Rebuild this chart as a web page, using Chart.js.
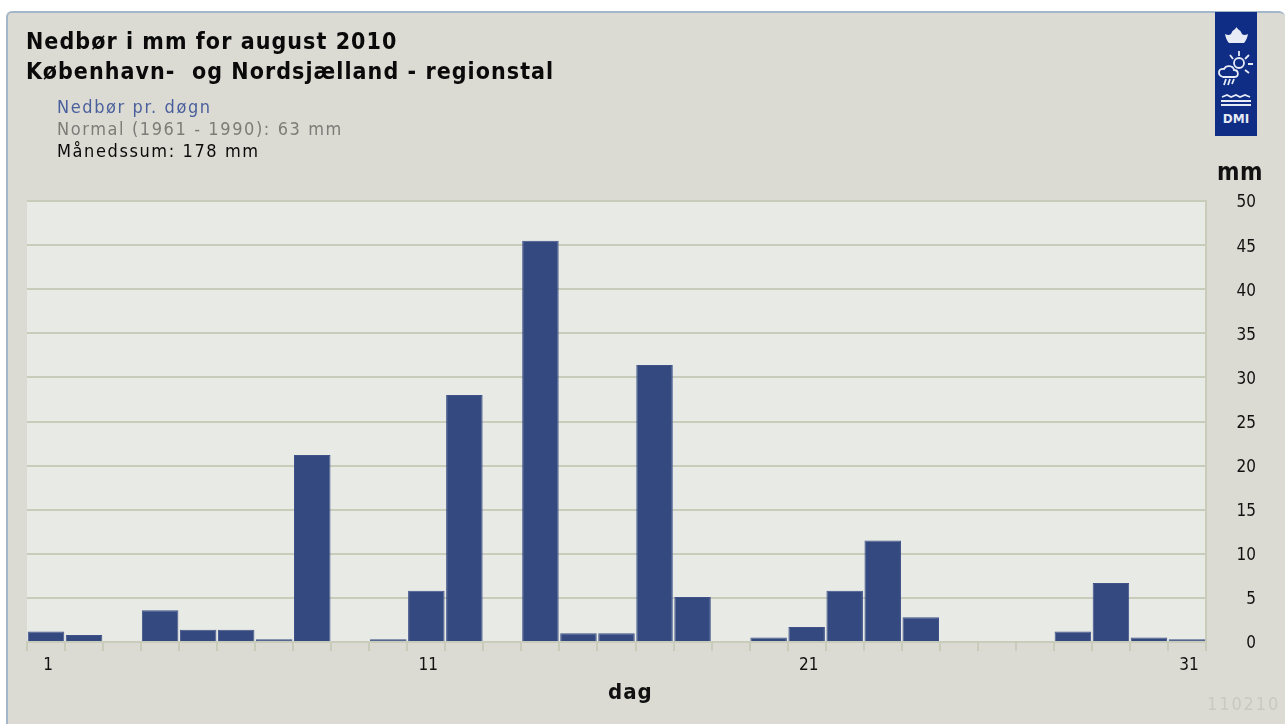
<!DOCTYPE html>
<html>
<head>
<meta charset="utf-8">
<title>Nedbør i mm for august 2010</title>
<script src="https://cdn.jsdelivr.net/npm/chart.js@4"></script>
<style>
html, body { margin: 0; padding: 0; background: #fff; overflow: hidden; }
#wrap { position: relative; width: 1285px; height: 724px; overflow: hidden; font-family: "DejaVu Sans Condensed", "DejaVu Sans", sans-serif; filter: blur(0.45px); }
#panel { position: absolute; left: 6px; top: 11px; width: 1279px; height: 720px; background: #dbdbd3;
  border-left: 2px solid #a4b6c9; border-top: 2px solid #a4b6c9; border-radius: 6px 6px 0 0; box-sizing: border-box; }
#chart { position: absolute; left: 0; top: 0; }
.txt { position: absolute; white-space: nowrap; }
.head { left: 26px; font-size: 23px; font-weight: bold; color: #0a0a0a; line-height: 30px; letter-spacing: 1.05px; }
.sub { left: 57px; font-size: 18px; line-height: 22px; letter-spacing: 1.6px; }
#logo { position: absolute; left: 1215px; top: 12px; width: 42px; height: 124px; }
</style>
</head>
<body>
<div id="wrap">
  <div id="panel"></div>
  <canvas id="chart" width="1285" height="724"></canvas>
  <div class="txt head" style="top:26px">Nedbør i mm for august 2010</div>
  <div class="txt head" style="top:56px">København-&nbsp; og Nordsjælland - regionstal</div>
  <div class="txt sub" style="top:96px;color:#4a5f9c">Nedbør pr. døgn</div>
  <div class="txt sub" style="top:118px;color:#7c7c78">Normal (1961 - 1990): 63 mm</div>
  <div class="txt sub" style="top:140px;color:#0a0a0a">Månedssum: 178 mm</div>
  <div class="txt" style="left:1217px;top:158px;font-size:24px;font-weight:bold;letter-spacing:0.5px;color:#111">mm</div>
  <div class="txt" style="left:608px;top:679px;font-size:22px;font-weight:bold;letter-spacing:1px;color:#111">dag</div>
  <div class="txt" style="left:1207px;top:693px;font-size:18px;letter-spacing:1.9px;color:#c9c9c0">110210</div>
  <svg id="logo" viewBox="0 0 42 124">
    <rect width="42" height="124" fill="#0f2d85"/>
    <g fill="#e6ebf5">
      <path d="M10 22 C11 28 14 31 14 31 H29 C29 31 32 28 33 22 C29 24 27 23 26 20 C25 18 23 18 21.5 15 C20 18 18 18 17 20 C16 23 14 24 10 22Z"/>
    </g>
    <g stroke="#e6ebf5" stroke-width="1.8" fill="none">
      <circle cx="24" cy="51" r="5"/>
      <path d="M24 39v5M34 43l-4 4M38 52h-5M34 61l-4-3M15 43l3 4"/>
      <path d="M8 65 C2 63 3 56 9 57 C11 53 18 53 19 58 C24 58 24 65 20 65Z" fill="#0f2d85"/>
      <path d="M11 67l-2 6M15 67l-2 6M19 67l-2 5"/>
      <path d="M7 85 l5 -2 l4 2 l5 -2 l4 2 l5 -2 l5 2"/>
      <path d="M6 89h30M6 93h30" stroke-width="2"/>
    </g>
    <text x="21" y="111" text-anchor="middle" font-family="DejaVu Sans" font-weight="bold" font-size="12" fill="#e6ebf5">DMI</text>
  </svg>
</div>
<script>
var days = ['1','2','3','4','5','6','7','8','9','10','11','12','13','14','15','16','17','18','19','20','21','22','23','24','25','26','27','28','29','30','31'];
var rain = [1.2,0.8,0,3.6,1.4,1.4,0.3,21.2,0,0.3,5.8,28,0,45.5,1,1,31.4,5.1,0,0.5,1.7,5.8,11.5,2.8,0,0,0,1.2,6.7,0.5,0.3];
var shownDays = ['1','11','21','31'];

// fills the plot area behind the bars
var plotBackground = {
    id: 'plotBackground',
    beforeDraw: function(chart) {
        var a = chart.chartArea;
        chart.ctx.fillStyle = '#e8eae5';
        chart.ctx.fillRect(a.left, a.top, a.right - a.left, a.bottom - a.top);
    }
};

var ctx = document.getElementById('chart').getContext('2d');
var chart = new Chart(ctx, {
    type: 'bar',
    data: {
        labels: days,
        datasets: [{
            label: 'Nedbør pr. døgn',
            data: rain,
            backgroundColor: '#34497f',
            borderColor: '#3f5389',
            borderWidth: 1,
            barPercentage: 1,
            categoryPercentage: 0.96
        }]
    },
    plugins: [plotBackground],
    options: {
        responsive: false,
        animation: false,
        layout: { padding: { left: 27, right: 29, top: 201, bottom: 0 } },
        plugins: { legend: { display: false }, tooltip: { enabled: false } },
        scales: {
            x: {
                offset: true,
                afterFit: function(scale) { scale.height = 82; },
                grid: { offset: true, drawOnChartArea: false, color: '#c9cbbb', lineWidth: 2, tickLength: 9 },
                border: { color: '#c9cbbb', width: 2 },
                ticks: {
                    autoSkip: false,
                    maxRotation: 0,
                    labelOffset: 2,
                    font: { family: 'DejaVu Sans Condensed', size: 17 },
                    color: '#111',
                    padding: 4,
                    callback: function(value) {
                        var d = this.getLabelForValue(value);
                        return shownDays.indexOf(d) >= 0 ? d : '';
                    }
                }
            },
            y: {
                position: 'right',
                min: 0,
                max: 50,
                afterFit: function(scale) { scale.width = 50; },
                grid: { color: '#c9cbbb', lineWidth: 2, drawTicks: false },
                border: { color: '#c9cbbb', width: 2 },
                ticks: {
                    stepSize: 5,
                    crossAlign: 'far',
                    labelOffset: 2,
                    font: { family: 'DejaVu Sans Condensed', size: 17 },
                    color: '#111',
                    padding: 6
                }
            }
        }
    }
});
</script>
</body>
</html>
